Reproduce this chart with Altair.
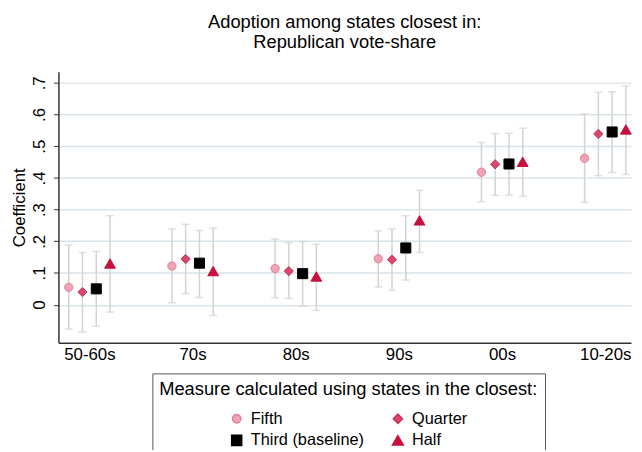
import altair as alt
import pandas as pd

categories = ["50-60s", "70s", "80s", "90s", "00s", "10-20s"]
series = ["Fifth", "Quarter", "Third (baseline)", "Half"]

coef = {
    "Fifth": [0.055, 0.122, 0.114, 0.145, 0.418, 0.462],
    "Quarter": [0.040, 0.144, 0.106, 0.142, 0.443, 0.539],
    "Third (baseline)": [0.050, 0.131, 0.098, 0.179, 0.444, 0.545],
    "Half": [0.130, 0.106, 0.089, 0.266, 0.451, 0.553],
}
lower = {
    "Fifth": [-0.077, 0.006, 0.022, 0.056, 0.325, 0.323],
    "Quarter": [-0.086, 0.035, 0.020, 0.046, 0.345, 0.407],
    "Third (baseline)": [-0.068, 0.023, -0.005, 0.078, 0.346, 0.417],
    "Half": [-0.023, -0.034, -0.018, 0.165, 0.342, 0.411],
}
upper = {
    "Fifth": [0.188, 0.239, 0.207, 0.233, 0.512, 0.602],
    "Quarter": [0.165, 0.254, 0.195, 0.239, 0.540, 0.670],
    "Third (baseline)": [0.168, 0.234, 0.199, 0.281, 0.541, 0.672],
    "Half": [0.281, 0.242, 0.191, 0.361, 0.557, 0.690],
}
y_ticks = [0, 0.1, 0.2, 0.3, 0.4, 0.5, 0.6, 0.7]
offsets = [-0.2, -0.067, 0.067, 0.2]
fills = ["#eea3b6", "#d8476c", "#000000", "#c8103e"]
strokes = ["#e27c98", "#c3325a", "#000000", "#c8103e"]
shapes = ["circle", "diamond", "square", "triangle-up"]
sizes = [70, 120, 90, 110]

rows = []
for si, s in enumerate(series):
    for ci, c in enumerate(categories):
        rows.append({
            "series": s, "cat": c, "x": ci + 1 + offsets[si],
            "coef": coef[s][ci], "lo": lower[s][ci], "hi": upper[s][ci],
        })
df = pd.DataFrame(rows)

FONT = "Liberation Sans"
label_expr = "[" + ",".join(f"'{c}'" for c in categories) + "][datum.value - 1]"

xscale = alt.Scale(domain=[0.7, 6.25], nice=False, zero=False)
yscale = alt.Scale(domain=[-0.12, 0.735], nice=False, zero=False)

xaxis = alt.Axis(values=[1, 2, 3, 4, 5, 6], labelExpr=label_expr,
                 ticks=False, grid=False, labelFontSize=17, labelPadding=4,
                 domainColor="#333333", domainWidth=1.5, labelColor="#000000",
                 labelFont=FONT)
yaxis = alt.Axis(values=y_ticks,
                 labelExpr="datum.value == 0 ? '0' : replace(format(datum.value, '.1f'), '0.', '.')",
                 labelAngle=270, labelFontSize=17, labelPadding=5, tickSize=5,
                 labelOverlap=False, grid=True,
                 tickColor="#333333", domainColor="#333333", domainWidth=1.5,
                 gridColor="#d8e3ea", gridWidth=1.5, titleFontSize=17,
                 titleFontWeight="normal", titleFont=FONT, labelFont=FONT,
                 titleColor="#000000", labelColor="#000000", titlePadding=2)


def X():
    return alt.X("x:Q", scale=xscale, title=None, axis=xaxis)


def Y(field):
    return alt.Y(f"{field}:Q", scale=yscale, title="Coefficient", axis=yaxis)


base = alt.Chart(df)

rules = base.mark_rule(color="#d3d3d3", strokeWidth=1.5).encode(
    x=X(), y=Y("lo"), y2="hi:Q",
)
cap_lo = base.mark_tick(color="#d3d3d3", orient="horizontal", size=8, thickness=1.5).encode(
    x=X(), y=Y("lo"))
cap_hi = base.mark_tick(color="#d3d3d3", orient="horizontal", size=8, thickness=1.5).encode(
    x=X(), y=Y("hi"))

legend = alt.Legend(
    title="Measure calculated using states in the closest:", orient="none",
    legendX=95, legendY=305, columns=2, direction="horizontal",
    titleFontSize=18.5, titleFontWeight="normal", titleFont=FONT, titleColor="#000000",
    titleAnchor="middle",
    labelFontSize=16.5, labelFont=FONT, labelColor="#000000",
    strokeColor="#555555", padding=7, columnPadding=24, rowPadding=5,
    labelOffset=6, titlePadding=12, titleLimit=600,
)
points = base.mark_point(filled=True, opacity=1, strokeWidth=1).encode(
    x=X(),
    y=Y("coef"),
    shape=alt.Shape("series:N", scale=alt.Scale(domain=series, range=shapes), legend=legend),
    color=alt.Color("series:N", scale=alt.Scale(domain=series, range=fills), legend=legend),
    stroke=alt.Stroke("series:N", scale=alt.Scale(domain=series, range=strokes), legend=legend),
    size=alt.Size("series:N", scale=alt.Scale(domain=series, range=sizes), legend=legend),
)

chart = alt.layer(rules, cap_lo, cap_hi, points).properties(
    width=579, height=274,
    title=alt.Title(["Adoption among states closest in:", "Republican vote-share"],
                    fontSize=18.5, fontWeight="normal", font=FONT, color="#000000",
                    anchor="middle", lineHeight=20, offset=21),
    autosize=alt.AutoSizeParams(type="none"),
    padding={"left": 51, "top": 62, "right": 3, "bottom": 106},
).configure(font=FONT).configure_view(stroke=None).configure_axis(labelOverlap=False)

chart.save("out.html", embed_options={"renderer": "svg", "actions": False})
